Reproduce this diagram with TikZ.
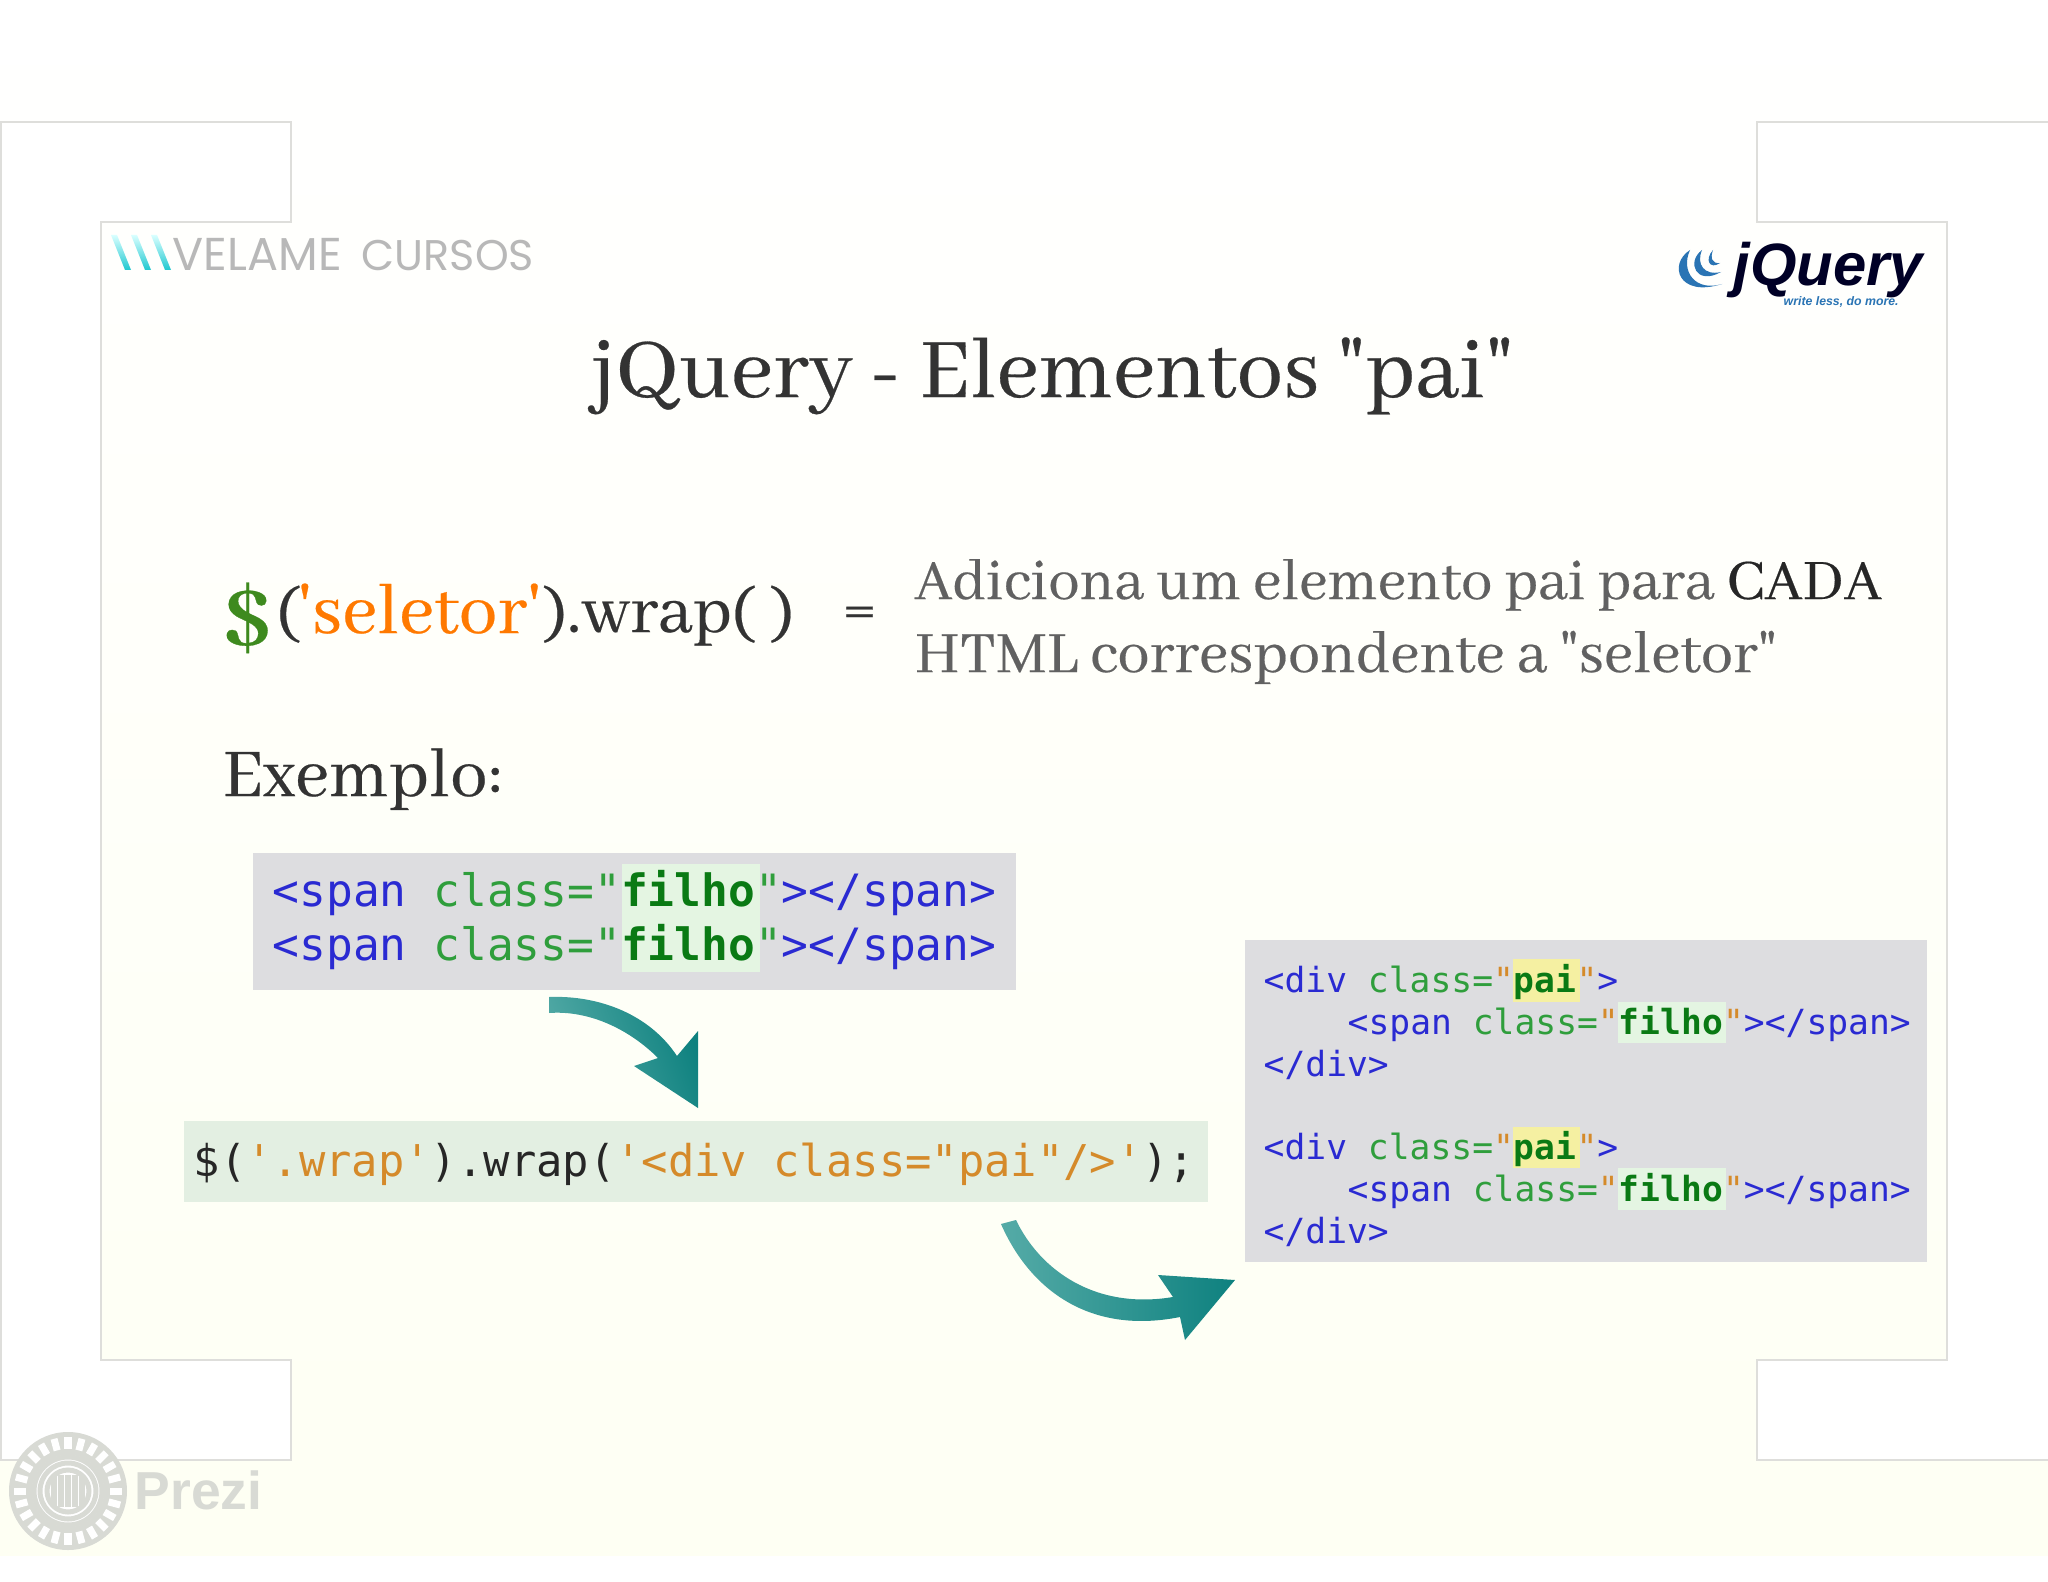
\documentclass[tikz,border=0pt]{standalone}
\usepackage{fontspec}
\usepackage{tikz}
\setmonofont{DejaVu Sans Mono}
\newfontfamily\slidefont[FakeBold=0.3]{Abhaya Libre}
\newfontfamily\logofont{Poppins}
\newfontfamily\jqfont{Liberation Sans}
\definecolor{tagblue}{HTML}{2A2AD2}
\definecolor{attrgreen}{HTML}{2F9E3C}
\definecolor{valgreen}{HTML}{0A7A14}
\definecolor{quoteorange}{HTML}{D58A2A}
\definecolor{framegray}{HTML}{DEDEDB}
\definecolor{cream}{HTML}{FEFFF3}
\definecolor{boxgray}{HTML}{DDDDE0}
\definecolor{boxgreen}{HTML}{E3EFE2}
\definecolor{filhomark}{HTML}{E4F5E2}
\definecolor{paimark}{HTML}{F5F0A2}
\definecolor{tealdark}{HTML}{0E817F}
\definecolor{teallight}{HTML}{55ABA7}
\definecolor{prezigray}{HTML}{D8DAD4}
\definecolor{jqblue}{HTML}{2A74B4}
\definecolor{dollargreen}{HTML}{3E8A1E}
\definecolor{cyanbar}{HTML}{20C8D0}
\tikzset{
	slidetext/.style={anchor=base west, inner sep=0pt, font=\slidefont},
	codetext/.style={anchor=base west, inner sep=0pt},
	crescent/.style={fill=jqblue, draw=none}
}
\def\spancode{\textcolor{tagblue}{<span}\ \textcolor{attrgreen}{class="}\textcolor{valgreen}{\bfseries filho}\textcolor{attrgreen}{"}\textcolor{tagblue}{></span>}}
\def\divcode{\textcolor{tagblue}{<div}\ \textcolor{attrgreen}{class=}\textcolor{quoteorange}{"}\textcolor{valgreen}{\bfseries pai}\textcolor{quoteorange}{"}\textcolor{tagblue}{>}}
\def\innercode{\textcolor{tagblue}{<span}\ \textcolor{attrgreen}{class=}\textcolor{quoteorange}{"}\textcolor{valgreen}{\bfseries filho}\textcolor{quoteorange}{"}\textcolor{tagblue}{></span>}}
\begin{document}
\begin{tikzpicture}[x=0.01cm, y=-0.01cm]
	%%%%% START %%%%%
	\useasboundingbox (0, 0) rectangle (2048, 1582);
	
	\fill[white] (0, 0) rectangle (2048, 1582);
	\shade[top color=white, bottom color=cream] (0, 0) rectangle (2048, 1555);
	
	% frame
	\draw[framegray, line width=0.2mm, fill=white] (1, 122) -- (291, 122) -- (291, 222) -- (101, 222) -- (101, 1360) -- (291, 1360) -- (291, 1460) -- (1, 1460) -- cycle;
	\draw[framegray, line width=0.2mm, fill=white] (2060, 122) -- (1757, 122) -- (1757, 222) -- (1947, 222) -- (1947, 1360) -- (1757, 1360) -- (1757, 1460) -- (2060, 1460);
	
	% velame logo
	\foreach \dx in {0, 20, 40}{
		\shade[top color=cyan!15, bottom color=cyanbar] (111+\dx, 235) -- (117+\dx, 235) -- (131+\dx, 270) -- (125+\dx, 270) -- cycle;
	}
	\node[anchor=base west, inner sep=0pt, text=black!28] (velame) at (172, 271) {\logofont\fontsize{13.1}{14}\selectfont VELAME};
	\node[anchor=base west, inner sep=0pt, text=black!28] (cursos) at (361, 271) {\logofont\fontsize{12.2}{14}\selectfont CURSOS};
	
	% jquery logo
	\fill[crescent] (1690, 250) .. controls (1668, 264) and (1678, 298) .. (1722, 284) .. controls (1696, 292) and (1680, 272) .. cycle;
	\fill[crescent] (1702, 250) .. controls (1686, 262) and (1696, 286) .. (1721, 272) .. controls (1704, 276) and (1696, 264) .. cycle;
	\fill[crescent] (1713, 250) .. controls (1704, 260) and (1710, 270) .. (1720, 263) .. controls (1712, 264) and (1710, 258) .. cycle;
	\node[anchor=base west, inner sep=0pt, text=black!85!blue] (jqname) at (1733, 286) {\jqfont\bfseries\itshape\fontsize{17}{17}\selectfont jQuery};
	\node[anchor=base west, inner sep=0pt, text=jqblue] (jqtag) at (1783, 305) {\jqfont\bfseries\itshape\fontsize{3.5}{4}\selectfont write less, do more.};
	
	% title
	\node[slidetext, text=black!80] (title) at (590, 397) {\fontsize{26.5}{26}\selectfont jQuery - Elementos "pai"};
	
	% wrap line
	\node[anchor=base west, inner sep=0pt, text=dollargreen] (dollar) at (222, 645) {\slidefont\bfseries\fontsize{26}{26}\selectfont \$};
	\node[slidetext, text=black!80] (openparen) at (276, 632) {\fontsize{20.8}{20}\selectfont (};
	\node[slidetext, text=orange!95!red] (seletor) at (297, 633) {\fontsize{22}{22}\selectfont 'seletor'};
	\node[slidetext, text=black!80] (wrapcall) at (542, 632) {\fontsize{20.8}{20}\selectfont ).wrap( )};
	\node[anchor=base west, inner sep=0pt, text=black!80] (equals) at (843, 628) {\slidefont\bfseries\fontsize{20}{20}\selectfont =};
	\node[slidetext, text=black!62] (descone) at (914, 599) {\fontsize{17.87}{17}\selectfont Adiciona um elemento pai para \textcolor{black!85}{CADA}};
	\node[slidetext, text=black!62] (desctwo) at (914, 672) {\fontsize{18.3}{18}\selectfont HTML correspondente a "seletor"};
	\node[slidetext, text=black!80] (exemplo) at (222, 796) {\fontsize{21.3}{21}\selectfont Exemplo:};
	
	% boxes
	\fill[boxgray] (253, 853) rectangle (1016, 990);
	\fill[filhomark] (622, 864) rectangle (760, 972);
	\fill[boxgreen] (184, 1121) rectangle (1208, 1202);
	\fill[boxgray] (1245, 940) rectangle (1927, 1262);
	\fill[paimark] (1513, 959) rectangle (1580, 1002);
	\fill[filhomark] (1618, 1002) rectangle (1726, 1043);
	\fill[paimark] (1513, 1127) rectangle (1580, 1168);
	\fill[filhomark] (1618, 1168) rectangle (1726, 1210);
	
	% code
	\node[codetext] (spanone) at (272, 906) {\ttfamily\fontsize{12.66}{13}\selectfont \spancode};
	\node[codetext] (spantwo) at (272, 960) {\ttfamily\fontsize{12.66}{13}\selectfont \spancode};
	\node[codetext, text=black!85] (wrapcode) at (193, 1176) {\ttfamily\fontsize{12.45}{13}\selectfont \$(\textcolor{quoteorange}{'.wrap'}).wrap(\textcolor{quoteorange}{'<div class="pai"/>'});};
	
	\node[codetext] (divone) at (1263, 992) {\ttfamily\fontsize{9.85}{10}\selectfont \divcode};
	\node[codetext] (innerone) at (1347, 1034) {\ttfamily\fontsize{9.85}{10}\selectfont \innercode};
	\node[codetext, text=tagblue] (closeone) at (1263, 1076) {\ttfamily\fontsize{9.85}{10}\selectfont </div>};
	\node[codetext] (divtwo) at (1263, 1159) {\ttfamily\fontsize{9.85}{10}\selectfont \divcode};
	\node[codetext] (innertwo) at (1347, 1201) {\ttfamily\fontsize{9.85}{10}\selectfont \innercode};
	\node[codetext, text=tagblue] (closetwo) at (1263, 1243) {\ttfamily\fontsize{9.85}{10}\selectfont </div>};
	
	% arrows
	\shade[left color=teallight, right color=tealdark, shading angle=110] (549, 997) .. controls (600, 995) and (650, 1015) .. (677, 1056) -- (698, 1031) -- (698, 1108) -- (634, 1066) -- (658, 1058) .. controls (630, 1030) and (590, 1010) .. (549, 1013) -- cycle;
	\shade[left color=teallight, right color=tealdark] (1016, 1220) .. controls (1040, 1270) and (1095, 1310) .. (1173, 1297) -- (1158, 1275) -- (1235, 1280) -- (1185, 1340) -- (1180, 1317) .. controls (1090, 1335) and (1030, 1290) .. (1001, 1224) -- cycle;
	
	% prezi logo
	\fill[prezigray] (68, 1491) circle (59);
	\foreach \a in {0, 15, ..., 345}{
		\draw[white, line width=0.7mm] (68, 1491) ++(\a:42) -- ++(\a:12);
	}
	\fill[white] (68, 1491) circle (36);
	\draw[prezigray, line width=0.5mm] (68, 1491) circle (34);
	\draw[prezigray, line width=0.5mm] (68, 1491) circle (28);
	\draw[prezigray, line width=0.5mm] (68, 1491) circle (21);
	\foreach \dx in {-14, -7, 0, 7, 14}{
		\draw[prezigray, line width=0.6mm] (68+\dx, 1475) -- (68+\dx, 1507);
	}
	\node[anchor=base west, inner sep=0pt, text=prezigray] (prezi) at (134, 1509) {\jqfont\bfseries\fontsize{15.2}{16}\selectfont Prezi};
	
	%%%%% END %%%%%
\end{tikzpicture}
\end{document}
